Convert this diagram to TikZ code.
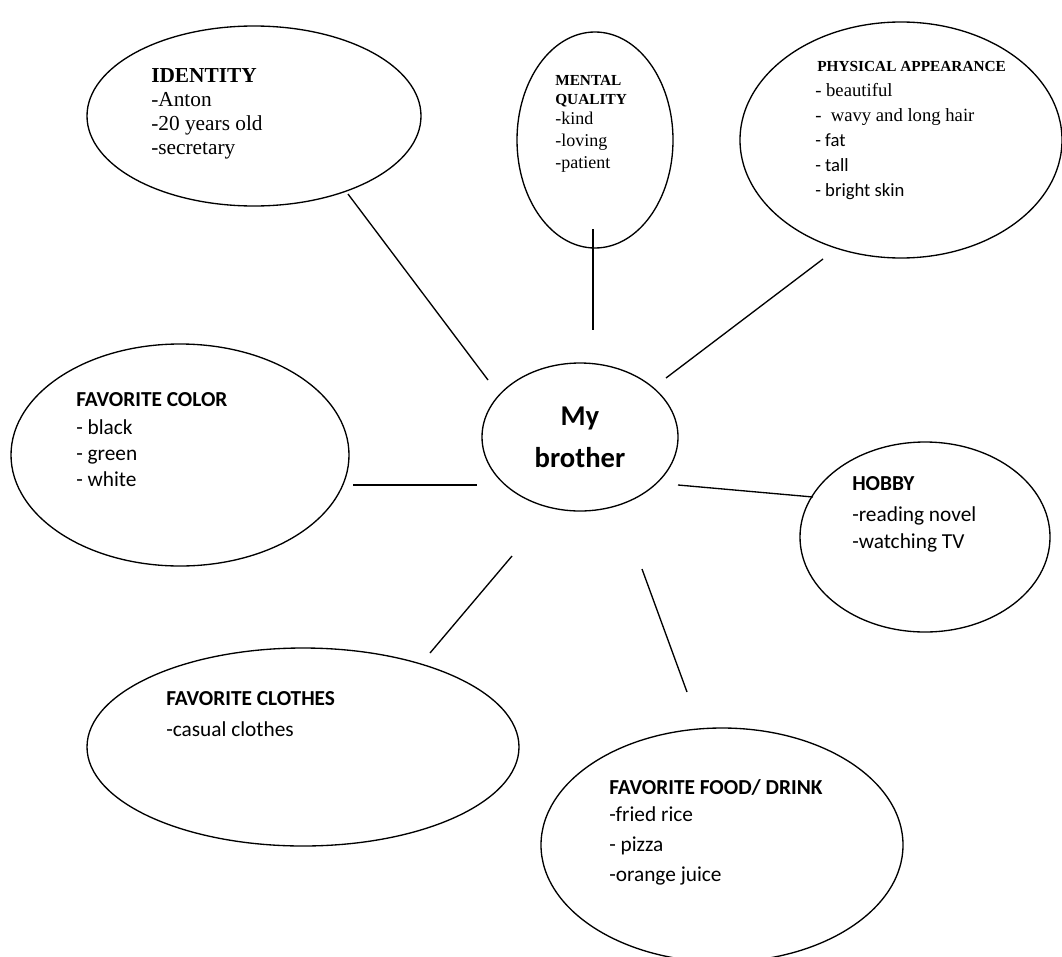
\documentclass[tikz,border=0pt]{standalone}
\usepackage{fontspec}
\setmainfont{Carlito}
\newfontfamily\tms{Liberation Serif}
\usetikzlibrary{shapes.geometric, positioning, calc}

\begin{document}
\begin{tikzpicture}[x=0.75pt, y=-0.75pt]
\tikzstyle{bubble} = [ellipse, draw, line width=1pt, inner sep=0pt]
\tikzstyle{link} = [line width=1pt]
\tikzstyle{txt} = [inner sep=0pt, anchor=north west, align=left]

\useasboundingbox (0,0) rectangle (1062,956);

% Bubbles
\node [bubble, minimum width=147pt, minimum height=111pt,
    font=\bfseries\fontsize{21.5}{31.5}\selectfont, align=center] (hub) at (580,437) {My\\brother};
\node [bubble, minimum width=250.5pt, minimum height=135pt] (identity) at (254,116) {};
\node [bubble, minimum width=117pt, minimum height=162pt] (mental) at (595,140) {};
\node [bubble, minimum width=241.5pt, minimum height=177pt] (physical) at (901,140) {};
\node [bubble, minimum width=253.5pt, minimum height=166.5pt] (color) at (180,455) {};
\node [bubble, minimum width=187.5pt, minimum height=142.5pt] (hobby) at (925,537) {};
\node [bubble, minimum width=324pt, minimum height=148.5pt] (clothes) at (303,747) {};
\node [bubble, minimum width=271.5pt, minimum height=175.5pt] (food) at (722,845) {};

% Texts
\node [txt, font=\tms\fontsize{16}{18}\selectfont] (identity-t) at (151,68)
    {\textbf{IDENTITY}\\-Anton\\-20 years old\\-secretary};
\node [txt, font=\tms\bfseries\fontsize{11.5}{14.25}\selectfont] (mental-h) at (555,75) {MENTAL\\QUALITY};
\node [txt, font=\tms\fontsize{13.5}{16.5}\selectfont] (mental-t) at (555,112) {-kind\\-loving\\-patient};
\node [txt, font=\tms\bfseries\fontsize{11.5}{14}\selectfont] (physical-h) at (817,61) {PHYSICAL APPEARANCE};
\node [txt, font=\fontsize{14}{18.75}\selectfont] (physical-t) at (815,83)
    {{\tms - beautiful}\\{\tms -\ \ wavy and long hair}\\- fat\\- tall\\- bright skin};
\node [txt, font=\bfseries\fontsize{16}{18}\selectfont] (color-h) at (76,392) {FAVORITE COLOR};
\node [txt, font=\fontsize{16}{19.5}\selectfont] (color-t) at (76,419) {- black\\- green\\- white};
\node [txt, font=\bfseries\fontsize{16}{18}\selectfont] (hobby-h) at (852,476) {HOBBY};
\node [txt, font=\fontsize{16}{20.25}\selectfont] (hobby-t) at (852,506) {-reading novel\\-watching TV};
\node [txt, font=\bfseries\fontsize{16}{18}\selectfont] (clothes-h) at (166,691) {FAVORITE CLOTHES};
\node [txt, font=\fontsize{16}{18}\selectfont] (clothes-t) at (166,721) {-casual clothes};
\node [txt, font=\bfseries\fontsize{16}{18}\selectfont] (food-h) at (609,779) {FAVORITE FOOD/ DRINK};
\node [txt, font=\fontsize{16}{22.5}\selectfont] (food-t) at (609,806) {-fried rice\\- pizza\\-orange juice};

% Links
\draw [link] ($(identity)+(94,78)$) -- ($(hub)+(-92,-57)$);
\draw [link] ($(mental)+(-2,89)$) -- ($(hub)+(13,-107)$);
\draw [link] ($(physical)+(-78,119)$) -- ($(hub)+(86,-59)$);
\draw [link] ($(color)+(173,30)$) -- ($(hub)+(-103,48)$);
\draw [link] ($(hobby)+(-112,-40)$) -- ($(hub)+(98,48)$);
\draw [link] ($(clothes)+(127,-94)$) -- ($(hub)+(-68,119)$);
\draw [link] ($(food)+(-35,-153)$) -- ($(hub)+(62,132)$);
\end{tikzpicture}
\end{document}
